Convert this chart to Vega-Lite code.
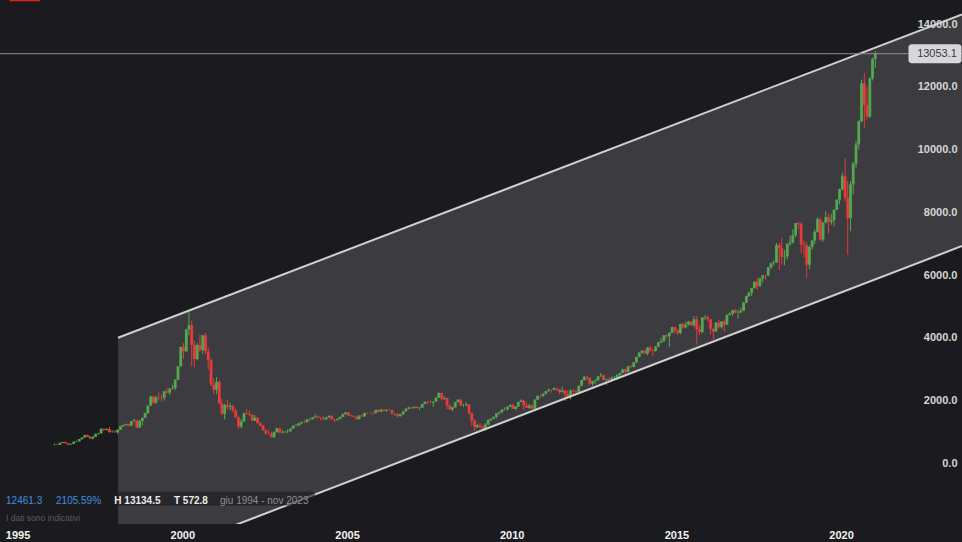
{
"$schema":"https://vega.github.io/schema/vega-lite/v6.json",
"width":962,"height":524,
"autosize":{"type":"none"},
"padding":{"left":0,"top":0,"right":0,"bottom":18},
"background":"#1b1b1f",
"config":{"view":{"stroke":null},"axis":{"grid":false,"domain":false,"ticks":false},"text":{"font":"Liberation Sans"}},
"datasets":{
"channel":[{"d":"1998-01-19","lo":-3402,"up":4003},{"d":"2023-09-03","lo":6924,"up":14306}],
"last":[{"v":13053.1}],
"note":[{}],
"candles":[
{"d":"1996-02-15","o":591.8,"h":625,"l":572.8,"c":602},
{"d":"1996-03-15","o":602,"h":612,"l":580,"c":593},
{"d":"1996-04-15","o":593,"h":655,"l":590,"c":651},
{"d":"1996-05-15","o":651,"h":690,"l":640,"c":678},
{"d":"1996-06-15","o":678,"h":690,"l":630,"c":642},
{"d":"1996-07-15","o":642,"h":650,"l":575,"c":600},
{"d":"1996-08-15","o":600,"h":630,"l":595,"c":620},
{"d":"1996-09-15","o":620,"h":695,"l":615,"c":690},
{"d":"1996-10-15","o":690,"h":720,"l":680,"c":700},
{"d":"1996-11-15","o":700,"h":775,"l":695,"c":770},
{"d":"1996-12-15","o":770,"h":830,"l":755,"c":821},
{"d":"1997-01-15","o":821,"h":910,"l":815,"c":900},
{"d":"1997-02-15","o":900,"h":920,"l":835,"c":842},
{"d":"1997-03-15","o":842,"h":870,"l":785,"c":792},
{"d":"1997-04-15","o":792,"h":860,"l":760,"c":850},
{"d":"1997-05-15","o":850,"h":950,"l":845,"c":940},
{"d":"1997-06-15","o":940,"h":975,"l":915,"c":955},
{"d":"1997-07-15","o":955,"h":1105,"l":950,"c":1100},
{"d":"1997-08-15","o":1100,"h":1110,"l":1040,"c":1060},
{"d":"1997-09-15","o":1060,"h":1120,"l":1050,"c":1090},
{"d":"1997-10-15","o":1090,"h":1160,"l":960,"c":1000},
{"d":"1997-11-15","o":1000,"h":1050,"l":975,"c":1010},
{"d":"1997-12-15","o":1010,"h":1060,"l":975,"c":990},
{"d":"1998-01-15","o":990,"h":1080,"l":940,"c":1070},
{"d":"1998-02-15","o":1070,"h":1190,"l":1065,"c":1180},
{"d":"1998-03-15","o":1180,"h":1230,"l":1160,"c":1220},
{"d":"1998-04-15","o":1220,"h":1270,"l":1200,"c":1250},
{"d":"1998-05-15","o":1250,"h":1260,"l":1180,"c":1200},
{"d":"1998-06-15","o":1200,"h":1345,"l":1190,"c":1340},
{"d":"1998-07-15","o":1340,"h":1420,"l":1330,"c":1370},
{"d":"1998-08-15","o":1370,"h":1390,"l":1110,"c":1140},
{"d":"1998-09-15","o":1140,"h":1380,"l":1120,"c":1345},
{"d":"1998-10-15","o":1345,"h":1460,"l":1200,"c":1450},
{"d":"1998-11-15","o":1450,"h":1610,"l":1440,"c":1600},
{"d":"1998-12-15","o":1600,"h":1850,"l":1570,"c":1836},
{"d":"1999-01-15","o":1836,"h":2150,"l":1830,"c":2128},
{"d":"1999-02-15","o":2128,"h":2140,"l":1880,"c":1930},
{"d":"1999-03-15","o":1930,"h":2150,"l":1900,"c":2106},
{"d":"1999-04-15","o":2106,"h":2250,"l":2000,"c":2100},
{"d":"1999-05-15","o":2100,"h":2200,"l":1960,"c":2090},
{"d":"1999-06-15","o":2090,"h":2310,"l":2000,"c":2296},
{"d":"1999-07-15","o":2296,"h":2400,"l":2240,"c":2250},
{"d":"1999-08-15","o":2250,"h":2400,"l":2170,"c":2380},
{"d":"1999-09-15","o":2380,"h":2500,"l":2350,"c":2400},
{"d":"1999-10-15","o":2400,"h":2680,"l":2330,"c":2660},
{"d":"1999-11-15","o":2660,"h":3100,"l":2650,"c":3090},
{"d":"1999-12-15","o":3090,"h":3720,"l":3080,"c":3708},
{"d":"2000-01-15","o":3708,"h":3830,"l":3330,"c":3570},
{"d":"2000-02-15","o":3570,"h":4290,"l":3540,"c":4266},
{"d":"2000-03-15","o":4266,"h":4816,"l":4070,"c":4398},
{"d":"2000-04-15","o":4398,"h":4550,"l":3100,"c":3774},
{"d":"2000-05-15","o":3774,"h":3900,"l":3060,"c":3325},
{"d":"2000-06-15","o":3325,"h":3830,"l":3280,"c":3763},
{"d":"2000-07-15","o":3763,"h":4100,"l":3560,"c":3610},
{"d":"2000-08-15","o":3610,"h":4100,"l":3480,"c":4077},
{"d":"2000-09-15","o":4077,"h":4150,"l":3480,"c":3570},
{"d":"2000-10-15","o":3570,"h":3680,"l":2970,"c":3283},
{"d":"2000-11-15","o":3283,"h":3350,"l":2460,"c":2507},
{"d":"2000-12-15","o":2507,"h":2700,"l":2200,"c":2341},
{"d":"2001-01-15","o":2341,"h":2750,"l":2200,"c":2593},
{"d":"2001-02-15","o":2593,"h":2650,"l":1890,"c":1908},
{"d":"2001-03-15","o":1908,"h":2050,"l":1520,"c":1573},
{"d":"2001-04-15","o":1573,"h":1900,"l":1400,"c":1855},
{"d":"2001-05-15","o":1855,"h":2020,"l":1720,"c":1799},
{"d":"2001-06-15","o":1799,"h":1920,"l":1690,"c":1830},
{"d":"2001-07-15","o":1830,"h":1850,"l":1620,"c":1684},
{"d":"2001-08-15","o":1684,"h":1740,"l":1450,"c":1469},
{"d":"2001-09-15","o":1469,"h":1520,"l":1090,"c":1168},
{"d":"2001-10-15","o":1168,"h":1420,"l":1120,"c":1329},
{"d":"2001-11-15","o":1329,"h":1620,"l":1320,"c":1596},
{"d":"2001-12-15","o":1596,"h":1720,"l":1550,"c":1577},
{"d":"2002-01-15","o":1577,"h":1680,"l":1500,"c":1550},
{"d":"2002-02-15","o":1550,"h":1560,"l":1340,"c":1359},
{"d":"2002-03-15","o":1359,"h":1530,"l":1350,"c":1452},
{"d":"2002-04-15","o":1452,"h":1470,"l":1270,"c":1277},
{"d":"2002-05-15","o":1277,"h":1320,"l":1170,"c":1208},
{"d":"2002-06-15","o":1208,"h":1230,"l":1040,"c":1051},
{"d":"2002-07-15","o":1051,"h":1090,"l":900,"c":962},
{"d":"2002-08-15","o":962,"h":1070,"l":930,"c":942},
{"d":"2002-09-15","o":942,"h":1010,"l":830,"c":832},
{"d":"2002-10-15","o":832,"h":1020,"l":795,"c":989},
{"d":"2002-11-15","o":989,"h":1130,"l":980,"c":1116},
{"d":"2002-12-15","o":1116,"h":1125,"l":970,"c":984},
{"d":"2003-01-15","o":984,"h":1060,"l":960,"c":1000},
{"d":"2003-02-15","o":1000,"h":1030,"l":950,"c":1010},
{"d":"2003-03-15","o":1010,"h":1090,"l":960,"c":1018},
{"d":"2003-04-15","o":1018,"h":1110,"l":1010,"c":1106},
{"d":"2003-05-15","o":1106,"h":1210,"l":1100,"c":1200},
{"d":"2003-06-15","o":1200,"h":1250,"l":1170,"c":1201},
{"d":"2003-07-15","o":1201,"h":1300,"l":1190,"c":1275},
{"d":"2003-08-15","o":1275,"h":1330,"l":1230,"c":1310},
{"d":"2003-09-15","o":1310,"h":1390,"l":1290,"c":1303},
{"d":"2003-10-15","o":1303,"h":1410,"l":1300,"c":1400},
{"d":"2003-11-15","o":1400,"h":1440,"l":1350,"c":1404},
{"d":"2003-12-15","o":1404,"h":1470,"l":1400,"c":1467},
{"d":"2004-01-15","o":1467,"h":1560,"l":1460,"c":1494},
{"d":"2004-02-15","o":1494,"h":1520,"l":1440,"c":1450},
{"d":"2004-03-15","o":1450,"h":1480,"l":1360,"c":1438},
{"d":"2004-04-15","o":1438,"h":1510,"l":1390,"c":1400},
{"d":"2004-05-15","o":1400,"h":1480,"l":1380,"c":1466},
{"d":"2004-06-15","o":1466,"h":1520,"l":1440,"c":1516},
{"d":"2004-07-15","o":1516,"h":1520,"l":1390,"c":1401},
{"d":"2004-08-15","o":1401,"h":1410,"l":1310,"c":1375},
{"d":"2004-09-15","o":1375,"h":1430,"l":1360,"c":1412},
{"d":"2004-10-15","o":1412,"h":1490,"l":1400,"c":1477},
{"d":"2004-11-15","o":1477,"h":1580,"l":1470,"c":1566},
{"d":"2004-12-15","o":1566,"h":1630,"l":1550,"c":1621},
{"d":"2005-01-15","o":1621,"h":1630,"l":1510,"c":1519},
{"d":"2005-02-15","o":1519,"h":1550,"l":1490,"c":1504},
{"d":"2005-03-15","o":1504,"h":1530,"l":1470,"c":1482},
{"d":"2005-04-15","o":1482,"h":1500,"l":1400,"c":1405},
{"d":"2005-05-15","o":1405,"h":1530,"l":1400,"c":1524},
{"d":"2005-06-15","o":1524,"h":1560,"l":1490,"c":1494},
{"d":"2005-07-15","o":1494,"h":1620,"l":1490,"c":1605},
{"d":"2005-08-15","o":1605,"h":1620,"l":1570,"c":1602},
{"d":"2005-09-15","o":1602,"h":1620,"l":1570,"c":1601},
{"d":"2005-10-15","o":1601,"h":1620,"l":1530,"c":1596},
{"d":"2005-11-15","o":1596,"h":1710,"l":1590,"c":1700},
{"d":"2005-12-15","o":1700,"h":1720,"l":1640,"c":1645},
{"d":"2006-01-15","o":1645,"h":1740,"l":1640,"c":1711},
{"d":"2006-02-15","o":1711,"h":1720,"l":1650,"c":1675},
{"d":"2006-03-15","o":1675,"h":1720,"l":1650,"c":1703},
{"d":"2006-04-15","o":1703,"h":1740,"l":1680,"c":1700},
{"d":"2006-05-15","o":1700,"h":1720,"l":1560,"c":1575},
{"d":"2006-06-15","o":1575,"h":1600,"l":1510,"c":1575},
{"d":"2006-07-15","o":1575,"h":1580,"l":1450,"c":1504},
{"d":"2006-08-15","o":1504,"h":1570,"l":1490,"c":1561},
{"d":"2006-09-15","o":1561,"h":1660,"l":1550,"c":1655},
{"d":"2006-10-15","o":1655,"h":1750,"l":1650,"c":1738},
{"d":"2006-11-15","o":1738,"h":1800,"l":1720,"c":1780},
{"d":"2006-12-15","o":1780,"h":1800,"l":1740,"c":1757},
{"d":"2007-01-15","o":1757,"h":1820,"l":1750,"c":1792},
{"d":"2007-02-15","o":1792,"h":1830,"l":1750,"c":1760},
{"d":"2007-03-15","o":1760,"h":1800,"l":1700,"c":1772},
{"d":"2007-04-15","o":1772,"h":1900,"l":1770,"c":1892},
{"d":"2007-05-15","o":1892,"h":1970,"l":1880,"c":1960},
{"d":"2007-06-15","o":1960,"h":1990,"l":1910,"c":1934},
{"d":"2007-07-15","o":1934,"h":2030,"l":1920,"c":1932},
{"d":"2007-08-15","o":1932,"h":1980,"l":1800,"c":1966},
{"d":"2007-09-15","o":1966,"h":2100,"l":1950,"c":2091},
{"d":"2007-10-15","o":2091,"h":2260,"l":2080,"c":2239},
{"d":"2007-11-15","o":2239,"h":2250,"l":2000,"c":2058},
{"d":"2007-12-15","o":2058,"h":2140,"l":2020,"c":2085},
{"d":"2008-01-15","o":2085,"h":2090,"l":1720,"c":1842},
{"d":"2008-02-15","o":1842,"h":1880,"l":1710,"c":1720},
{"d":"2008-03-15","o":1720,"h":1810,"l":1660,"c":1782},
{"d":"2008-04-15","o":1782,"h":1960,"l":1770,"c":1949},
{"d":"2008-05-15","o":1949,"h":2050,"l":1940,"c":2030},
{"d":"2008-06-15","o":2030,"h":2040,"l":1830,"c":1838},
{"d":"2008-07-15","o":1838,"h":1900,"l":1800,"c":1842},
{"d":"2008-08-15","o":1842,"h":1950,"l":1830,"c":1872},
{"d":"2008-09-15","o":1872,"h":1890,"l":1550,"c":1605},
{"d":"2008-10-15","o":1605,"h":1610,"l":1200,"c":1355},
{"d":"2008-11-15","o":1355,"h":1400,"l":1040,"c":1150},
{"d":"2008-12-15","o":1150,"h":1250,"l":1120,"c":1212},
{"d":"2009-01-15","o":1212,"h":1280,"l":1130,"c":1153},
{"d":"2009-02-15","o":1153,"h":1230,"l":1070,"c":1078},
{"d":"2009-03-15","o":1078,"h":1280,"l":1043,"c":1237},
{"d":"2009-04-15","o":1237,"h":1400,"l":1220,"c":1386},
{"d":"2009-05-15","o":1386,"h":1450,"l":1340,"c":1417},
{"d":"2009-06-15","o":1417,"h":1500,"l":1400,"c":1477},
{"d":"2009-07-15","o":1477,"h":1600,"l":1430,"c":1598},
{"d":"2009-08-15","o":1598,"h":1650,"l":1550,"c":1632},
{"d":"2009-09-15","o":1632,"h":1730,"l":1590,"c":1713},
{"d":"2009-10-15","o":1713,"h":1780,"l":1690,"c":1718},
{"d":"2009-11-15","o":1718,"h":1810,"l":1690,"c":1800},
{"d":"2009-12-15","o":1800,"h":1880,"l":1790,"c":1860},
{"d":"2010-01-15","o":1860,"h":1890,"l":1730,"c":1732},
{"d":"2010-02-15","o":1732,"h":1820,"l":1690,"c":1808},
{"d":"2010-03-15","o":1808,"h":1960,"l":1800,"c":1956},
{"d":"2010-04-15","o":1956,"h":2040,"l":1950,"c":2000},
{"d":"2010-05-15","o":2000,"h":2020,"l":1700,"c":1845},
{"d":"2010-06-15","o":1845,"h":1930,"l":1760,"c":1770},
{"d":"2010-07-15","o":1770,"h":1890,"l":1730,"c":1840},
{"d":"2010-08-15","o":1840,"h":1880,"l":1740,"c":1740},
{"d":"2010-09-15","o":1740,"h":2040,"l":1740,"c":2030},
{"d":"2010-10-15","o":2030,"h":2160,"l":2020,"c":2152},
{"d":"2010-11-15","o":2152,"h":2180,"l":2080,"c":2140},
{"d":"2010-12-15","o":2140,"h":2230,"l":2130,"c":2218},
{"d":"2011-01-15","o":2218,"h":2310,"l":2200,"c":2300},
{"d":"2011-02-15","o":2300,"h":2390,"l":2290,"c":2340},
{"d":"2011-03-15","o":2340,"h":2360,"l":2250,"c":2338},
{"d":"2011-04-15","o":2338,"h":2420,"l":2330,"c":2390},
{"d":"2011-05-15","o":2390,"h":2410,"l":2310,"c":2360},
{"d":"2011-06-15","o":2360,"h":2370,"l":2200,"c":2270},
{"d":"2011-07-15","o":2270,"h":2440,"l":2260,"c":2319},
{"d":"2011-08-15","o":2319,"h":2330,"l":1980,"c":2200},
{"d":"2011-09-15","o":2200,"h":2320,"l":2080,"c":2100},
{"d":"2011-10-15","o":2100,"h":2360,"l":2040,"c":2320},
{"d":"2011-11-15","o":2320,"h":2370,"l":2160,"c":2300},
{"d":"2011-12-15","o":2300,"h":2330,"l":2230,"c":2278},
{"d":"2012-01-15","o":2278,"h":2480,"l":2270,"c":2474},
{"d":"2012-02-15","o":2474,"h":2660,"l":2470,"c":2650},
{"d":"2012-03-15","o":2650,"h":2790,"l":2640,"c":2755},
{"d":"2012-04-15","o":2755,"h":2790,"l":2650,"c":2720},
{"d":"2012-05-15","o":2720,"h":2730,"l":2490,"c":2540},
{"d":"2012-06-15","o":2540,"h":2630,"l":2470,"c":2615},
{"d":"2012-07-15","o":2615,"h":2680,"l":2530,"c":2640},
{"d":"2012-08-15","o":2640,"h":2780,"l":2630,"c":2770},
{"d":"2012-09-15","o":2770,"h":2880,"l":2760,"c":2800},
{"d":"2012-10-15","o":2800,"h":2820,"l":2640,"c":2660},
{"d":"2012-11-15","o":2660,"h":2700,"l":2500,"c":2680},
{"d":"2012-12-15","o":2680,"h":2730,"l":2600,"c":2660},
{"d":"2013-01-15","o":2660,"h":2770,"l":2650,"c":2730},
{"d":"2013-02-15","o":2730,"h":2780,"l":2690,"c":2740},
{"d":"2013-03-15","o":2740,"h":2840,"l":2720,"c":2820},
{"d":"2013-04-15","o":2820,"h":2890,"l":2740,"c":2880},
{"d":"2013-05-15","o":2880,"h":3020,"l":2870,"c":2990},
{"d":"2013-06-15","o":2990,"h":3030,"l":2850,"c":2910},
{"d":"2013-07-15","o":2910,"h":3100,"l":2900,"c":3090},
{"d":"2013-08-15","o":3090,"h":3130,"l":3050,"c":3070},
{"d":"2013-09-15","o":3070,"h":3230,"l":3060,"c":3220},
{"d":"2013-10-15","o":3220,"h":3400,"l":3190,"c":3390},
{"d":"2013-11-15","o":3390,"h":3540,"l":3380,"c":3530},
{"d":"2013-12-15","o":3530,"h":3600,"l":3480,"c":3590},
{"d":"2014-01-15","o":3590,"h":3630,"l":3490,"c":3500},
{"d":"2014-02-15","o":3500,"h":3710,"l":3440,"c":3690},
{"d":"2014-03-15","o":3690,"h":3740,"l":3540,"c":3600},
{"d":"2014-04-15","o":3600,"h":3640,"l":3410,"c":3580},
{"d":"2014-05-15","o":3580,"h":3740,"l":3560,"c":3720},
{"d":"2014-06-15","o":3720,"h":3860,"l":3700,"c":3850},
{"d":"2014-07-15","o":3850,"h":3990,"l":3830,"c":3890},
{"d":"2014-08-15","o":3890,"h":4090,"l":3870,"c":4080},
{"d":"2014-09-15","o":4080,"h":4120,"l":3990,"c":4050},
{"d":"2014-10-15","o":4050,"h":4170,"l":3700,"c":4160},
{"d":"2014-11-15","o":4160,"h":4350,"l":4150,"c":4340},
{"d":"2014-12-15","o":4340,"h":4360,"l":4130,"c":4236},
{"d":"2015-01-15","o":4236,"h":4290,"l":4090,"c":4150},
{"d":"2015-02-15","o":4150,"h":4450,"l":4110,"c":4440},
{"d":"2015-03-15","o":4440,"h":4480,"l":4300,"c":4330},
{"d":"2015-04-15","o":4330,"h":4520,"l":4300,"c":4420},
{"d":"2015-05-15","o":4420,"h":4540,"l":4390,"c":4510},
{"d":"2015-06-15","o":4510,"h":4530,"l":4390,"c":4400},
{"d":"2015-07-15","o":4400,"h":4690,"l":4340,"c":4590},
{"d":"2015-08-15","o":4590,"h":4700,"l":3790,"c":4270},
{"d":"2015-09-15","o":4270,"h":4400,"l":4090,"c":4180},
{"d":"2015-10-15","o":4180,"h":4660,"l":4150,"c":4650},
{"d":"2015-11-15","o":4650,"h":4720,"l":4560,"c":4665},
{"d":"2015-12-15","o":4665,"h":4710,"l":4510,"c":4590},
{"d":"2016-01-15","o":4590,"h":4600,"l":4100,"c":4280},
{"d":"2016-02-15","o":4280,"h":4320,"l":3950,"c":4200},
{"d":"2016-03-15","o":4200,"h":4500,"l":4190,"c":4480},
{"d":"2016-04-15","o":4480,"h":4570,"l":4300,"c":4340},
{"d":"2016-05-15","o":4340,"h":4530,"l":4290,"c":4520},
{"d":"2016-06-15","o":4520,"h":4570,"l":4200,"c":4420},
{"d":"2016-07-15","o":4420,"h":4750,"l":4400,"c":4730},
{"d":"2016-08-15","o":4730,"h":4820,"l":4710,"c":4770},
{"d":"2016-09-15","o":4770,"h":4900,"l":4700,"c":4875},
{"d":"2016-10-15","o":4875,"h":4920,"l":4780,"c":4800},
{"d":"2016-11-15","o":4800,"h":4900,"l":4600,"c":4810},
{"d":"2016-12-15","o":4810,"h":4960,"l":4780,"c":4860},
{"d":"2017-01-15","o":4860,"h":5140,"l":4850,"c":5120},
{"d":"2017-02-15","o":5120,"h":5340,"l":5100,"c":5330},
{"d":"2017-03-15","o":5330,"h":5460,"l":5300,"c":5440},
{"d":"2017-04-15","o":5440,"h":5600,"l":5330,"c":5580},
{"d":"2017-05-15","o":5580,"h":5800,"l":5570,"c":5790},
{"d":"2017-06-15","o":5790,"h":5900,"l":5530,"c":5650},
{"d":"2017-07-15","o":5650,"h":5920,"l":5620,"c":5890},
{"d":"2017-08-15","o":5890,"h":6000,"l":5760,"c":5990},
{"d":"2017-09-15","o":5990,"h":6000,"l":5860,"c":5980},
{"d":"2017-10-15","o":5980,"h":6260,"l":5970,"c":6250},
{"d":"2017-11-15","o":6250,"h":6400,"l":6180,"c":6370},
{"d":"2017-12-15","o":6370,"h":6470,"l":6300,"c":6400},
{"d":"2018-01-15","o":6400,"h":7020,"l":6390,"c":6950},
{"d":"2018-02-15","o":6950,"h":7030,"l":6160,"c":6850},
{"d":"2018-03-15","o":6850,"h":7190,"l":6340,"c":6580},
{"d":"2018-04-15","o":6580,"h":6800,"l":6310,"c":6600},
{"d":"2018-05-15","o":6600,"h":7000,"l":6500,"c":7000},
{"d":"2018-06-15","o":7000,"h":7260,"l":6930,"c":7040},
{"d":"2018-07-15","o":7040,"h":7460,"l":7000,"c":7270},
{"d":"2018-08-15","o":7270,"h":7660,"l":7200,"c":7650},
{"d":"2018-09-15","o":7650,"h":7700,"l":7480,"c":7630},
{"d":"2018-10-15","o":7630,"h":7690,"l":6700,"c":6970},
{"d":"2018-11-15","o":6970,"h":7100,"l":6570,"c":6950},
{"d":"2018-12-15","o":6950,"h":7050,"l":5900,"c":6330},
{"d":"2019-01-15","o":6330,"h":6950,"l":6180,"c":6900},
{"d":"2019-02-15","o":6900,"h":7130,"l":6800,"c":7100},
{"d":"2019-03-15","o":7100,"h":7450,"l":6980,"c":7380},
{"d":"2019-04-15","o":7380,"h":7850,"l":7350,"c":7780},
{"d":"2019-05-15","o":7780,"h":7850,"l":7080,"c":7130},
{"d":"2019-06-15","o":7130,"h":7700,"l":7060,"c":7670},
{"d":"2019-07-15","o":7670,"h":8030,"l":7650,"c":7850},
{"d":"2019-08-15","o":7850,"h":7950,"l":7330,"c":7700},
{"d":"2019-09-15","o":7700,"h":7950,"l":7600,"c":7750},
{"d":"2019-10-15","o":7750,"h":8100,"l":7550,"c":8080},
{"d":"2019-11-15","o":8080,"h":8420,"l":8070,"c":8400},
{"d":"2019-12-15","o":8400,"h":8760,"l":8250,"c":8730},
{"d":"2020-01-15","o":8730,"h":9260,"l":8690,"c":9150},
{"d":"2020-02-15","o":9150,"h":9720,"l":8350,"c":8460},
{"d":"2020-03-15","o":8460,"h":9000,"l":6640,"c":7810},
{"d":"2020-04-15","o":7810,"h":9000,"l":7400,"c":8890},
{"d":"2020-05-15","o":8890,"h":9600,"l":8560,"c":9550},
{"d":"2020-06-15","o":9550,"h":10270,"l":9420,"c":10160},
{"d":"2020-07-15","o":10160,"h":10950,"l":10000,"c":10900},
{"d":"2020-08-15","o":10900,"h":12230,"l":10870,"c":12110},
{"d":"2020-09-15","o":12110,"h":12440,"l":10680,"c":11420},
{"d":"2020-10-15","o":11420,"h":12000,"l":10930,"c":11050},
{"d":"2020-11-15","o":11050,"h":12300,"l":11000,"c":12270},
{"d":"2020-12-15","o":12270,"h":12930,"l":12200,"c":12890},
{"d":"2021-01-15","o":12890,"h":13134.5,"l":12600,"c":13053.1}
]},
"layer":[
{"data":{"name":"channel"},"mark":{"type":"area","color":"#3c3b40","clip":true},
 "encoding":{"x":{"field":"d","type":"temporal"},"y":{"field":"lo","type":"quantitative"},"y2":{"field":"up"}}},
{"data":{"name":"candles"},"mark":{"type":"rule","strokeWidth":1},
 "encoding":{"x":{"field":"d","type":"temporal"},"y":{"field":"l","type":"quantitative"},"y2":{"field":"h"},
 "color":{"condition":{"test":"datum.c < datum.o","value":"#e53b3b"},"value":"#53a84e"}}},
{"data":{"name":"candles"},"mark":{"type":"bar","size":2.8},
 "encoding":{
  "x":{"field":"d","type":"temporal","scale":{"domain":[{"year":1994,"month":6,"date":20},{"year":2023,"month":9,"date":3}],"nice":false,"padding":0},
   "axis":{"orient":"bottom","title":null,"format":"%Y","values":[{"year":1995,"month":1,"date":1},{"year":2000,"month":1,"date":1},{"year":2005,"month":1,"date":1},{"year":2010,"month":1,"date":1},{"year":2015,"month":1,"date":1},{"year":2020,"month":1,"date":1}],
   "labelFont":"Liberation Sans","labelFontSize":11,"labelFontWeight":"bold","labelColor":"#f2f2f2","labelPadding":5,"labelFlush":false,"labelOverlap":false}},
  "y":{"field":"o","type":"quantitative","scale":{"domain":[-1934,14765],"nice":false,"zero":false,"padding":0},
   "axis":{"orient":"right","title":null,"values":[0,2000,4000,6000,8000,10000,12000,14000],"format":".1f","labelAlign":"right","labelBaseline":"middle","labelPadding":-5,
   "labelFont":"Liberation Sans","labelFontSize":11,"labelFontWeight":"bold","labelColor":"#d6d6d6","labelFlush":false,"zindex":1}},
  "y2":{"field":"c"},
  "color":{"condition":{"test":"datum.c < datum.o","value":"#e53b3b"},"value":"#53a84e"}}},
{"data":{"name":"channel"},"mark":{"type":"line","color":"#cfcfd2","strokeWidth":2,"clip":true},
 "encoding":{"x":{"field":"d","type":"temporal"},"y":{"field":"up","type":"quantitative"}}},
{"data":{"name":"channel"},"mark":{"type":"line","color":"#cfcfd2","strokeWidth":2,"clip":true},
 "encoding":{"x":{"field":"d","type":"temporal"},"y":{"field":"lo","type":"quantitative"}}},
{"data":{"name":"note"},"mark":{"type":"rect","color":"#1b1b1f","opacity":0.62,"cornerRadius":3},
 "encoding":{"x":{"datum":{"year":1994,"month":6,"date":20},"type":"temporal"},"x2":{"datum":{"year":2004,"month":1,"date":12}},
 "y":{"datum":-905,"type":"quantitative"},"y2":{"datum":-1345}}},
{"data":{"name":"note"},"mark":{"type":"rect","color":"#e0201c","clip":true},
 "encoding":{"x":{"datum":{"year":1994,"month":10,"date":4},"type":"temporal"},"x2":{"datum":{"year":1995,"month":9,"date":7}},
 "y":{"datum":14765,"type":"quantitative"},"y2":{"datum":14725}}},
{"data":{"name":"last"},"mark":{"type":"rule","color":"#8e8e92","strokeWidth":1},"encoding":{"y":{"field":"v","type":"quantitative"}}},
{"data":{"name":"last"},"mark":{"type":"tick","orient":"horizontal","color":"#d8d8dc","opacity":1,"size":53,"thickness":19,"xOffset":-27,"cornerRadius":3},
 "encoding":{"x":{"datum":{"year":2023,"month":9,"date":3},"type":"temporal"},"y":{"field":"v","type":"quantitative"}}},
{"data":{"name":"last"},"mark":{"type":"text","font":"Liberation Sans","fontSize":11,"color":"#3a3a3e","align":"center","baseline":"middle","xOffset":-25},
 "encoding":{"x":{"datum":{"year":2023,"month":9,"date":3},"type":"temporal"},"y":{"field":"v","type":"quantitative"},"text":{"field":"v","type":"quantitative","format":".1f"}}},
{"data":{"name":"note"},"mark":{"type":"text","text":"12461.3","fontSize":10,"color":"#3f8fe0","align":"left","baseline":"middle"},
 "encoding":{"x":{"datum":{"year":1994,"month":8,"date":26},"type":"temporal"},"y":{"datum":-1201,"type":"quantitative"}}},
{"data":{"name":"note"},"mark":{"type":"text","text":"2105.59%","fontSize":10,"color":"#3f8fe0","align":"left","baseline":"middle"},
 "encoding":{"x":{"datum":{"year":1996,"month":3,"date":2},"type":"temporal"},"y":{"datum":-1201,"type":"quantitative"}}},
{"data":{"name":"note"},"mark":{"type":"text","text":"H 13134.5","fontSize":10,"fontWeight":"bold","color":"#ececec","align":"left","baseline":"middle"},
 "encoding":{"x":{"datum":{"year":1997,"month":12,"date":9},"type":"temporal"},"y":{"datum":-1201,"type":"quantitative"}}},
{"data":{"name":"note"},"mark":{"type":"text","text":"T 572.8","fontSize":10,"fontWeight":"bold","color":"#ececec","align":"left","baseline":"middle"},
 "encoding":{"x":{"datum":{"year":1999,"month":10,"date":1},"type":"temporal"},"y":{"datum":-1201,"type":"quantitative"}}},
{"data":{"name":"note"},"mark":{"type":"text","text":"giu 1994 - nov 2023","fontSize":10,"color":"#8e8e94","align":"left","baseline":"middle"},
 "encoding":{"x":{"datum":{"year":2001,"month":2,"date":23},"type":"temporal"},"y":{"datum":-1201,"type":"quantitative"}}},
{"data":{"name":"note"},"mark":{"type":"text","text":"I dati sono indicativi","fontSize":8.5,"color":"#5a5a61","align":"left","baseline":"middle"},
 "encoding":{"x":{"datum":{"year":1994,"month":8,"date":26},"type":"temporal"},"y":{"datum":-1753,"type":"quantitative"}}}
]
}
